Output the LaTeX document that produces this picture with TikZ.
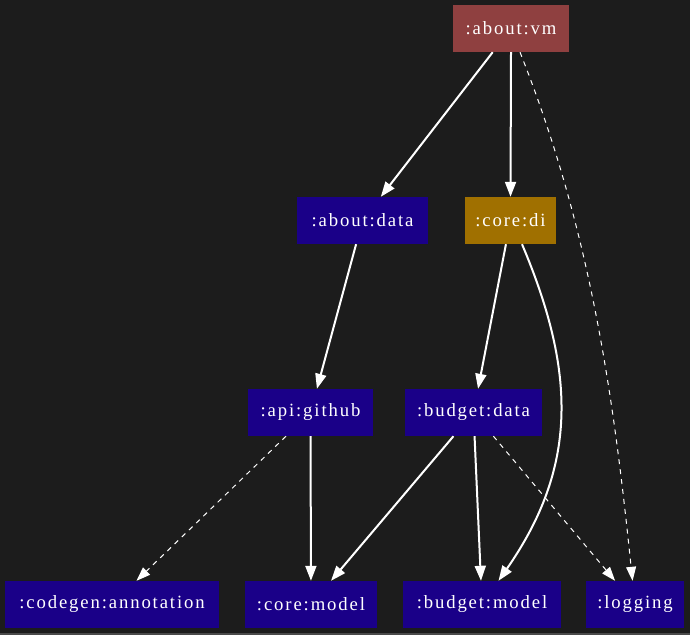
\documentclass[tikz,border=0pt]{standalone}
\usepackage{fontspec}
\setmainfont{Liberation Serif}[LetterSpace=10]
\usetikzlibrary{arrows.meta,calc}
\definecolor{bg}{HTML}{1C1C1C}
\definecolor{edgegray}{HTML}{4A4A4A}
\definecolor{modblue}{HTML}{1A0088}
\definecolor{vmred}{HTML}{8F4040}
\definecolor{diamber}{HTML}{A07000}
\begin{document}
\begin{tikzpicture}[x=1pt,y=-1pt,
  module/.style={fill=modblue, text=white, minimum height=47pt, inner sep=0pt,
    font=\fontsize{18.7}{22}\selectfont},
  dep/.style={draw=white, line width=2pt, -{Triangle[length=15pt,width=11pt]}},
  weakdep/.style={draw=white, line width=1pt, dash pattern=on 5pt off 5pt,
    -{Triangle[length=14pt,width=10pt]}}]
  % canvas
  \fill[bg] (0,0) rectangle (690,635);
  \fill[edgegray] (0,633) rectangle (690,635);
  \useasboundingbox (0,0) rectangle (690,635);

  % modules
  \node[module, fill=vmred, minimum width=116pt] (vm) at (511,28.5) {:about:vm};
  \node[module, minimum width=131pt] (aboutdata) at (362.5,220.5) {:about:data};
  \node[module, fill=diamber, minimum width=91pt] (coredi) at (510.5,220.5) {:core:di};
  \node[module, minimum width=125pt] (github) at (310.5,412.5) {:api:github};
  \node[module, minimum width=137pt] (budgetdata) at (473.5,412.5) {:budget:data};
  \node[module, minimum width=214pt] (codegen) at (112,604.5) {:codegen:annotation};
  \node[module, minimum width=132pt] (coremodel) at (311,604.5) {:core:model};
  \node[module, minimum width=158pt] (budgetmodel) at (482,604.5) {:budget:model};
  \node[module, minimum width=98pt] (logging) at (635,604.5) {:logging};

  % dependencies
  \draw[dep] (vm) -- (aboutdata);
  \draw[dep] (vm.south) -- (coredi.north);
  \draw[weakdep] ($(vm.south)+(9,0)$) .. controls (592,233) and (614,402) .. (logging);
  \draw[dep] (aboutdata) -- (github);
  \draw[dep] (coredi) -- (budgetdata);
  \draw[dep] ($(coredi.south)+(11.5,0)$) .. controls (577,374) and (577,468) .. (budgetmodel);
  \draw[weakdep] (github) -- (codegen);
  \draw[dep] (github) -- (coremodel);
  \draw[dep] (budgetdata) -- (coremodel);
  \draw[dep] (budgetdata) -- (budgetmodel);
  \draw[weakdep] (budgetdata) -- (logging);
\end{tikzpicture}
\end{document}
